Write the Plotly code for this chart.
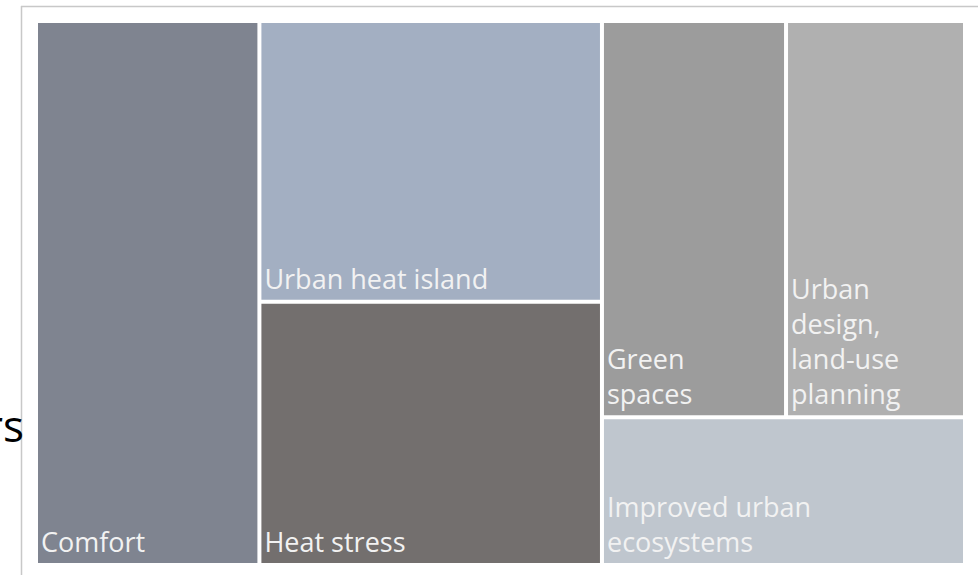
import plotly.graph_objects as go

# ---- data ----
ids = ["root", "Comfort", "grpA", "Urban heat island", "Heat stress",
       "grpB", "grpC", "Green spaces", "Urban design",
       "Improved urban ecosystems"]
labels = [" ", "Comfort", " ", "Urban heat island", "Heat stress",
          " ", " ", "Green<br>spaces",
          "Urban<br>design,<br>land-use<br>planning",
          "Improved urban<br>ecosystems"]
parents = ["", "root", "root", "grpA", "grpA",
           "root", "grpB", "grpC", "grpC", "grpB"]
values = [0, 120, 0, 95, 89, 0, 0, 72, 70, 53]
colors = ["#ffffff", "#7f8490", "#ffffff", "#a3afc2", "#736f6e",
          "#ffffff", "#ffffff", "#9c9c9c", "#b0b0b0", "#bfc6ce"]

W, H = 978, 575
ml, mt, mr, mb = 38, 23, 15, 12
pw, ph = W - ml - mr, H - mt - mb

fig = go.Figure(go.Treemap(
    ids=ids, labels=labels, parents=parents, values=values,
    branchvalues="remainder", sort=False,
    marker=dict(colors=colors, line=dict(width=0, color="white"),
                pad=dict(t=0, l=0, r=0, b=0), depthfade=False),
    tiling=dict(packing="slice-dice", pad=4),
    pathbar=dict(visible=False),
    textposition="bottom left",
    textinfo="label",
    textfont=dict(family="Open Sans", size=27, color="#f2f2f2"),
    hoverinfo="none",
))

def px_x(x):
    return (x - ml) / pw

def px_y(y):
    return (H - mb - y) / ph

fig.update_layout(
    width=W, height=H,
    margin=dict(l=ml, r=mr, t=mt, b=mb),
    paper_bgcolor="white",
    shapes=[
        dict(type="line", xref="paper", yref="paper",
             x0=px_x(21), x1=px_x(985), y0=px_y(6.5), y1=px_y(6.5),
             line=dict(color="#c8c8c8", width=1.5)),
        dict(type="line", xref="paper", yref="paper",
             x0=px_x(21.5), x1=px_x(21.5), y0=px_y(6), y1=px_y(585),
             line=dict(color="#c8c8c8", width=1.5)),
    ],
    annotations=[
        dict(text="rs", xref="paper", yref="paper",
             x=px_x(26), y=px_y(425), xanchor="right", yanchor="middle",
             showarrow=False,
             font=dict(family="Open Sans", size=44, color="#000000")),
    ],
)

fig.write_html("out.html")
